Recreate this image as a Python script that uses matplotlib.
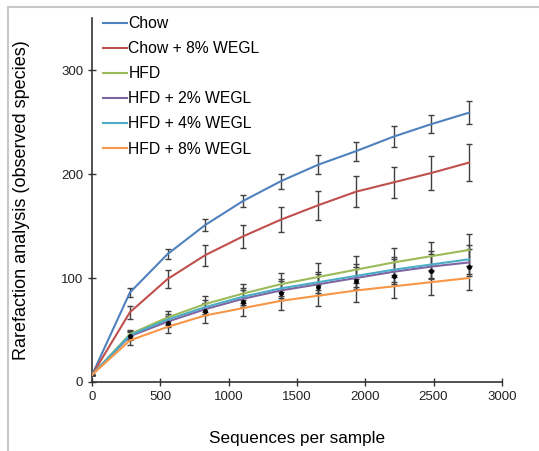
import matplotlib
matplotlib.use("Agg")
import matplotlib.pyplot as plt
from matplotlib.lines import Line2D

plt.rcParams['font.family'] = ['Liberation Sans', 'DejaVu Sans']

depth = [0, 276, 552, 828, 1104, 1380, 1656, 1932, 2208, 2484, 2760]

labels = ["Chow", "Chow + 8% WEGL", "HFD", "HFD + 2% WEGL",
          "HFD + 4% WEGL", "HFD + 8% WEGL"]
colors = ["#4F81BD", "#C0504D", "#9BBB59", "#8064A2", "#4BACC6", "#F79646"]

chow = [7, 86, 123, 151, 174, 193, 209, 222, 236, 248, 259]
chow_err = [0, 4, 5, 6, 6, 7, 9, 9, 10, 9, 11]
chow8 = [7, 67, 99, 122, 140, 156, 170, 183, 192, 201, 211]
chow8_err = [0, 6, 9, 10, 11, 12, 14, 15, 15, 16, 18]
hfd = [7, 46, 62, 75, 85, 94, 101, 108, 115, 121, 127]
hfd_err = [0, 4, 6, 8, 9, 11, 13, 13, 14, 14, 15]
hfd2 = [7, 44, 58, 70, 80, 88, 94, 100, 106, 111, 115]
hfd2_err = [0, 4, 5, 6, 8, 9, 10, 11, 12, 12, 13]
hfd4 = [7, 45, 60, 72, 82, 90, 96, 102, 108, 113, 118]
hfd4_err = [0, 4, 5, 7, 8, 9, 10, 11, 12, 13, 14]
hfd8 = [7, 40, 53, 64, 71, 78, 83, 88, 92, 96, 100]
hfd8_err = [0, 4, 6, 7, 8, 9, 10, 11, 11, 12, 12]
# black mean markers visible on the low group
dots = [7, 44, 57, 68, 77, 86, 91, 97, 102, 107, 111]

series = [chow, chow8, hfd, hfd2, hfd4, hfd8]
errs = [chow_err, chow8_err, hfd_err, hfd2_err, hfd4_err, hfd8_err]

fig = plt.figure(figsize=(5.39, 4.51), dpi=100)
ax = fig.add_axes([0.171, 0.153, 0.760, 0.807])

for y, e, c in zip(series, errs, colors):
    ax.errorbar(depth, y, yerr=e, fmt='none', ecolor='#404040',
                elinewidth=1, capsize=2.5, capthick=1, zorder=2)
    ax.plot(depth, y, color=c, lw=1.5, zorder=3)
ax.plot(depth[1:], dots[1:], 'o', color='black', ms=2.5, zorder=4)

ax.set_xlim(0, 3000)
ax.set_ylim(0, 350)
ax.set_xticks(range(0, 3001, 500))
ax.set_yticks([0, 100, 200, 300])
for s in ['top', 'right']:
    ax.spines[s].set_visible(False)
for s in ['left', 'bottom']:
    ax.spines[s].set_color('#333333')
    ax.spines[s].set_linewidth(1.2)
ax.tick_params(axis='both', direction='inout', length=6, width=1,
               color='#333333', labelsize=9.5, labelcolor='#222222')
ax.set_xlabel("Sequences per sample", fontsize=12.3, labelpad=20)
ax.set_ylabel("Rarefaction analysis (observed species)", fontsize=13,
              labelpad=22)

handles = [Line2D([], [], color=c, lw=1.5) for c in colors]
ax.legend(handles, labels, loc='upper left', bbox_to_anchor=(0.012, 1.022),
          frameon=False, fontsize=11.3, handlelength=1.5, handletextpad=0.1,
          labelspacing=0.64, borderaxespad=0)

# light grey frame around the panel
fig.add_artist(Line2D([8/539, 1], [1-7/451, 1-7/451], color='#c8c8c8', lw=1.5))
fig.add_artist(Line2D([8/539, 8/539], [0, 1-7/451], color='#c8c8c8', lw=1.5))

fig.savefig("out.png", dpi=100)
